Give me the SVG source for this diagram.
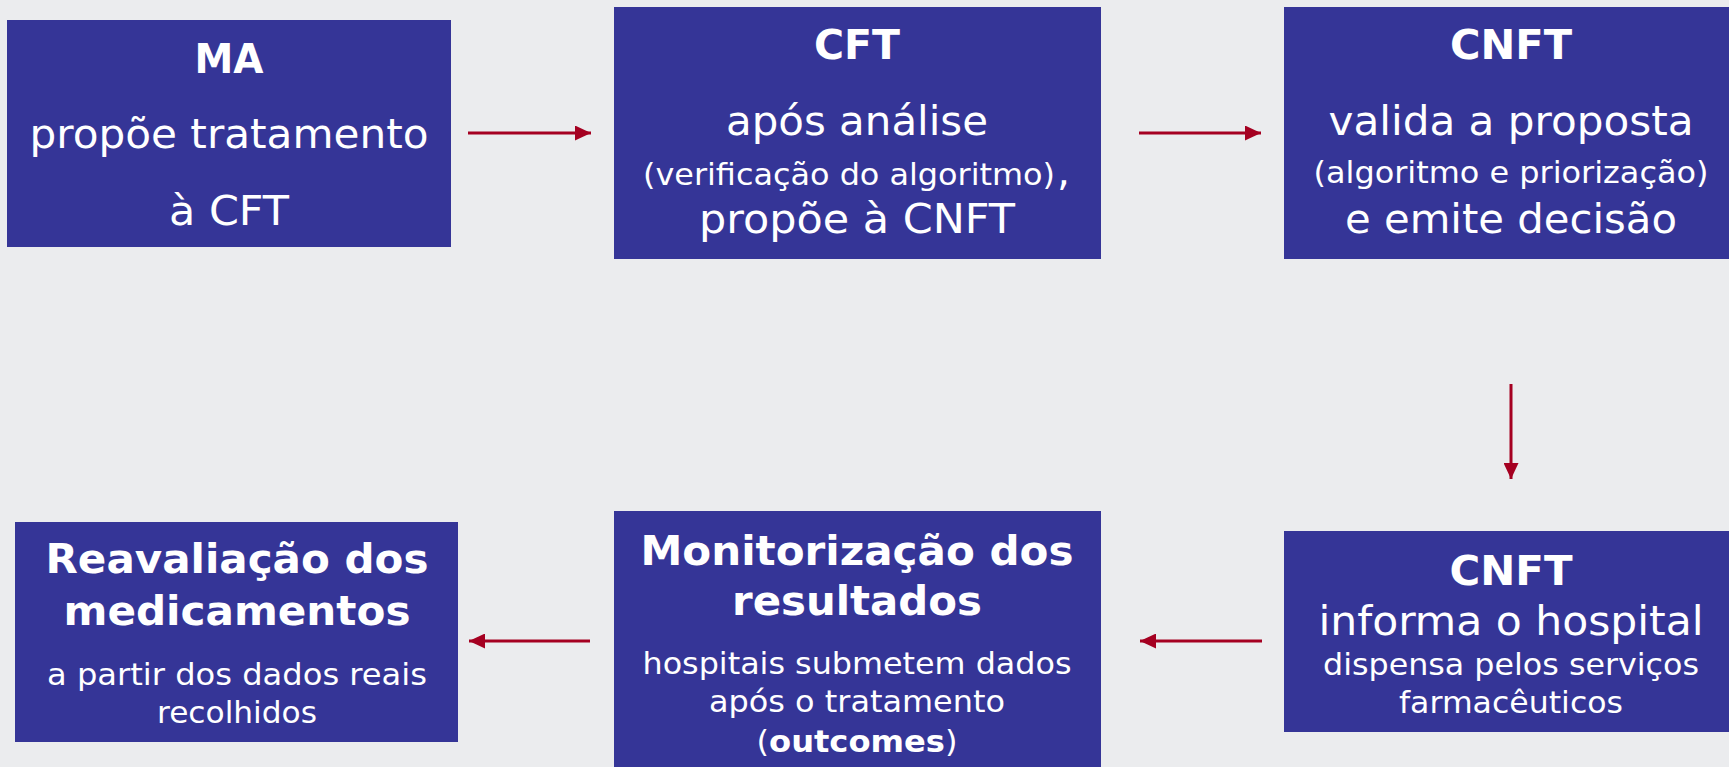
<svg xmlns="http://www.w3.org/2000/svg" width="1729" height="767" viewBox="0 0 1729 767">
<style>
.bg{fill:#EBECEE}
.box{fill:#353597}
text{font-family:"DejaVu Sans","Liberation Sans",sans-serif;fill:#FFFFFF;text-anchor:middle}
.b{font-weight:bold;font-size:41px}
.r{font-size:41px}
.s{font-size:30px}
.conn line{stroke:#A50021;stroke-width:3;fill:none}
</style>
<defs>
<marker id="ah" markerUnits="userSpaceOnUse" markerWidth="16" markerHeight="15" refX="16" refY="7.5" orient="auto" viewBox="0 0 16 15">
<path d="M0,0 L16,7.5 L0,15 z" fill="#A50021"/>
</marker>
</defs>
<rect class="bg" x="0" y="0" width="1729" height="767"/>
<g id="connectors" class="conn">
<line x1="468" y1="133" x2="591" y2="133" marker-end="url(#ah)"/>
<line x1="1139" y1="133" x2="1261" y2="133" marker-end="url(#ah)"/>
<line x1="1511" y1="384" x2="1511" y2="479" marker-end="url(#ah)"/>
<line x1="1262" y1="641" x2="1140" y2="641" marker-end="url(#ah)"/>
<line x1="590" y1="641" x2="469" y2="641" marker-end="url(#ah)"/>
</g>
<g id="node-ma">
<rect class="box" x="7" y="20" width="444" height="227"/>
<text class="b" x="229" y="73" textLength="69" lengthAdjust="spacingAndGlyphs">MA</text>
<text class="r" x="229" y="148" textLength="399" lengthAdjust="spacingAndGlyphs">propõe tratamento</text>
<text class="r" x="229" y="225" textLength="120" lengthAdjust="spacingAndGlyphs">à CFT</text>
</g>
<g id="node-cft">
<rect class="box" x="614" y="7" width="487" height="252"/>
<text class="b" x="857" y="59" textLength="86" lengthAdjust="spacingAndGlyphs">CFT</text>
<text class="r" x="857" y="135" textLength="262" lengthAdjust="spacingAndGlyphs">após análise</text>
<text class="s" x="643" y="185" style="text-anchor:start" textLength="412" lengthAdjust="spacingAndGlyphs">(verificação do algoritmo)</text>
<text class="r" x="1057" y="185" style="text-anchor:start">,</text>
<text class="r" x="857" y="233" textLength="316" lengthAdjust="spacingAndGlyphs">propõe à CNFT</text>
</g>
<g id="node-cnft-valida">
<rect class="box" x="1284" y="7" width="445" height="252"/>
<text class="b" x="1511" y="59" textLength="122" lengthAdjust="spacingAndGlyphs">CNFT</text>
<text class="r" x="1511" y="135" textLength="365" lengthAdjust="spacingAndGlyphs">valida a proposta</text>
<text class="s" x="1511" y="183" textLength="395" lengthAdjust="spacingAndGlyphs">(algoritmo e priorização)</text>
<text class="r" x="1511" y="233" textLength="332" lengthAdjust="spacingAndGlyphs">e emite decisão</text>
</g>
<g id="node-cnft-informa">
<rect class="box" x="1284" y="531" width="445" height="201"/>
<text class="b" x="1511" y="585" textLength="123" lengthAdjust="spacingAndGlyphs">CNFT</text>
<text class="r" x="1511" y="635" textLength="385" lengthAdjust="spacingAndGlyphs">informa o hospital</text>
<text class="s" x="1511" y="675" textLength="376" lengthAdjust="spacingAndGlyphs">dispensa pelos serviços</text>
<text class="s" x="1511" y="713" textLength="224" lengthAdjust="spacingAndGlyphs">farmacêuticos</text>
</g>
<g id="node-monitorizacao">
<rect class="box" x="614" y="511" width="487" height="256"/>
<text class="b" x="857" y="565" textLength="433" lengthAdjust="spacingAndGlyphs">Monitorização dos</text>
<text class="b" x="857" y="615" textLength="250" lengthAdjust="spacingAndGlyphs">resultados</text>
<text class="s" x="857" y="674" textLength="429" lengthAdjust="spacingAndGlyphs">hospitais submetem dados</text>
<text class="s" x="857" y="712" textLength="296" lengthAdjust="spacingAndGlyphs">após o tratamento</text>
<text class="s" x="857" y="752" textLength="201" lengthAdjust="spacingAndGlyphs">(<tspan font-weight="bold">outcomes</tspan>)</text>
</g>
<g id="node-reavaliacao">
<rect class="box" x="15" y="522" width="443" height="220"/>
<text class="b" x="237" y="573" textLength="383" lengthAdjust="spacingAndGlyphs">Reavaliação dos</text>
<text class="b" x="237" y="625" textLength="347" lengthAdjust="spacingAndGlyphs">medicamentos</text>
<text class="s" x="237" y="685" textLength="380" lengthAdjust="spacingAndGlyphs">a partir dos dados reais</text>
<text class="s" x="237" y="723" textLength="160" lengthAdjust="spacingAndGlyphs">recolhidos</text>
</g>
</svg>
